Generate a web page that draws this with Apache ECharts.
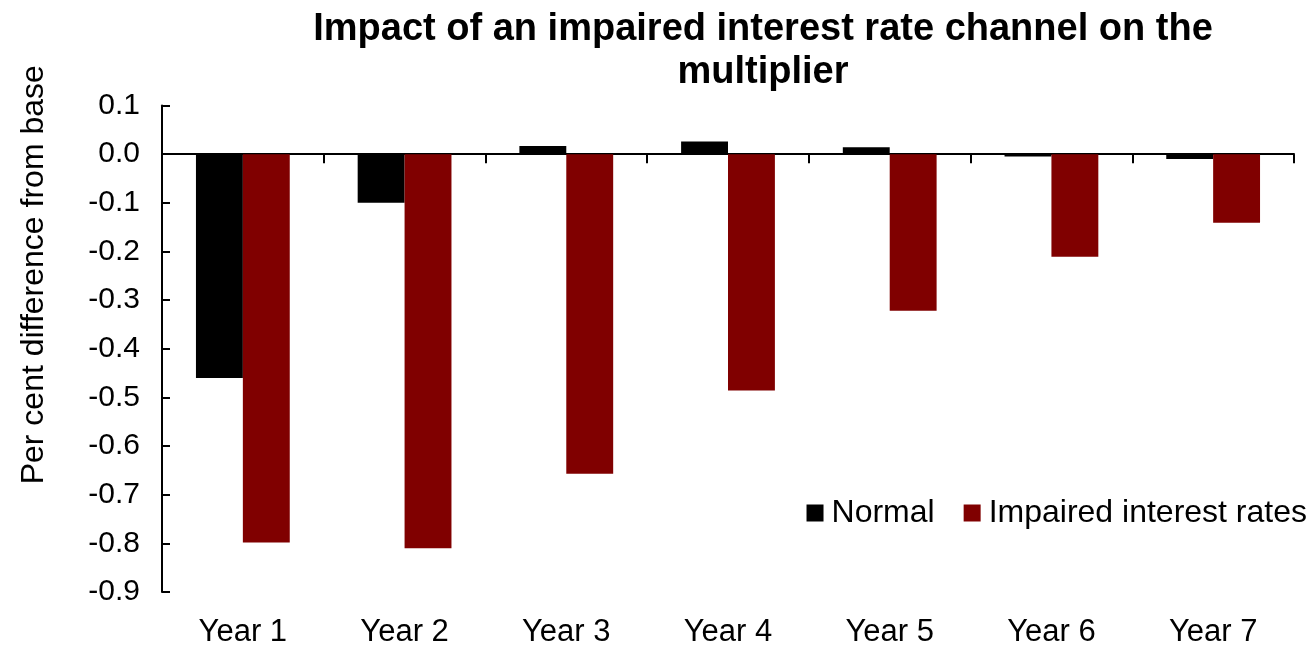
<!DOCTYPE html>
<html>
<head>
<meta charset="utf-8">
<title>Impact of an impaired interest rate channel on the multiplier</title>
<script src="https://cdn.jsdelivr.net/npm/echarts@6/dist/echarts.min.js"></script>
<style>
  html, body { margin: 0; padding: 0; background: #ffffff; }
  #chart { width: 1313px; height: 648px; }
</style>
</head>
<body>
<div id="chart"></div>
<script>
// Categories and series values (per cent difference from base)
const years = ['Year 1', 'Year 2', 'Year 3', 'Year 4', 'Year 5', 'Year 6', 'Year 7'];
const normal = [-0.46, -0.10, 0.017, 0.026, 0.014, -0.005, -0.010];
const impaired = [-0.798, -0.81, -0.657, -0.486, -0.322, -0.211, -0.141];
const seriesNames = ['Normal', 'Impaired interest rates'];
const titleText = 'Impact of an impaired interest rate channel on the\nmultiplier';
const yAxisTitle = 'Per cent difference from base';

const FONT = "'Liberation Sans', Arial, sans-serif";
const chart = echarts.init(document.getElementById('chart'));

chart.setOption({
  animation: false,
  backgroundColor: '#ffffff',
  textStyle: { fontFamily: FONT, color: '#000000' },
  title: {
    text: titleText,
    left: 758,
    top: 3,
    textAlign: 'center',
    textStyle: { fontFamily: FONT, fontSize: 38, fontWeight: 'bold', color: '#000000', lineHeight: 43 }
  },
  legend: {
    data: seriesNames,
    right: 1,
    top: 492,
    icon: 'rect',
    itemWidth: 17,
    itemHeight: 17,
    itemGap: 29,
    textStyle: { fontFamily: FONT, fontSize: 32, color: '#000000', padding: [0, 0, 0, 3] }
  },
  grid: { left: 162, right: 19, top: 105.5, bottom: 55, containLabel: false },
  xAxis: [
    {
      // zero line with category separators
      type: 'category',
      data: years,
      axisLine: { onZero: true, lineStyle: { color: '#000000', width: 2 } },
      axisTick: { show: true, length: 9, lineStyle: { color: '#000000', width: 2 } },
      axisLabel: { show: false },
      splitLine: { show: false }
    },
    {
      // category labels along the bottom
      type: 'category',
      data: years,
      position: 'bottom',
      axisLine: { show: false, onZero: false },
      axisTick: { show: false },
      axisLabel: { fontFamily: FONT, fontSize: 31, color: '#000000', margin: 25 },
      splitLine: { show: false }
    }
  ],
  yAxis: {
    type: 'value',
    min: -0.9,
    max: 0.1,
    interval: 0.1,
    name: yAxisTitle,
    nameLocation: 'middle',
    nameRotate: 90,
    nameGap: 112,
    nameTextStyle: { fontFamily: FONT, fontSize: 32, color: '#000000', padding: [0, 0, 0, 148] },
    axisLine: { show: true, lineStyle: { color: '#000000', width: 2 } },
    axisTick: { show: true, inside: true, length: 8, lineStyle: { color: '#000000', width: 2 } },
    axisLabel: {
      fontFamily: FONT, fontSize: 30, color: '#000000', margin: 22,
      formatter: v => (Math.abs(v) < 1e-9 ? 0 : v).toFixed(1)
    },
    splitLine: { show: false }
  },
  series: [
    {
      name: seriesNames[0],
      type: 'bar',
      xAxisIndex: 0,
      data: normal,
      barWidth: '29%',
      barGap: '0%',
      itemStyle: { color: '#000000' }
    },
    {
      name: seriesNames[1],
      type: 'bar',
      xAxisIndex: 0,
      data: impaired,
      barWidth: '29%',
      barGap: '0%',
      itemStyle: { color: '#800000' }
    }
  ]
});
</script>
</body>
</html>
